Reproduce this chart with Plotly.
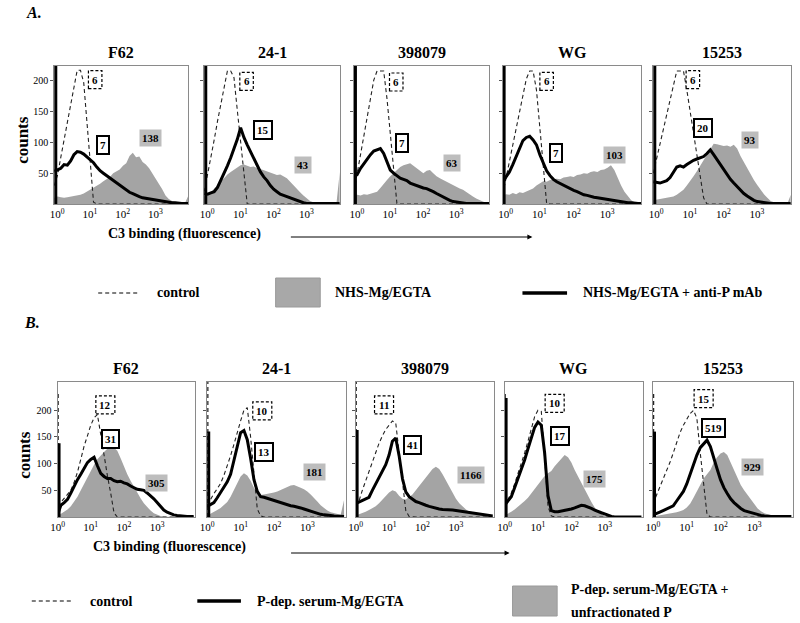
import plotly.graph_objects as go

# ---------------- data ----------------
LOG_CHANNEL = [0.0, 0.1, 0.2, 0.3, 0.4, 0.5, 0.6, 0.7, 0.8, 0.9,
               1.0, 1.1, 1.2, 1.3, 1.4, 1.5, 1.6, 1.7, 1.8, 1.9,
               2.0, 2.1, 2.2, 2.3, 2.4, 2.5, 2.6, 2.7, 2.8, 2.9,
               3.0, 3.1, 3.2, 3.3, 3.4, 3.5, 3.6, 3.7, 3.8, 3.9,
               4.0, 4.1]

STRAINS = ["F62", "24-1", "398079", "WG", "15253"]
X_TICK_VALUES = [1, 10, 100, 1000]
X_TICK_TEXT = ["10<sup>0</sup>", "10<sup>1</sup>", "10<sup>2</sup>", "10<sup>3</sup>"]
Y_TICK_VALUES = [50, 100, 150, 200]

# ---- panel A : control / NHS-Mg/EGTA (grey) / NHS-Mg/EGTA + anti-P mAb (black)
A_F62_CONTROL = [30, 47, 76, 104, 132, 160, 189, 217, 217, 197,
                 132, 66, 3, 0, 0, 0, 0, 0, 0, 0,
                 0, 0, 0, 0, 0, 0, 0, 0, 0, 0,
                 0, 0, 0, 0, 0, 0, 0, 0, 0, 0,
                 0, 0]
A_F62_NHS = [10, 12, 11, 10, 11, 12, 13, 13, 15, 17,
             20, 23, 27, 30, 33, 37, 40, 44, 50, 53,
             56, 62, 66, 78, 83, 76, 77, 68, 64, 58,
             50, 42, 33, 24, 14, 8, 5, 3, 2, 2,
             2, 14]
A_F62_MAB = [53, 55, 58, 64, 63, 70, 80, 85, 84, 81,
             76, 71, 67, 60, 54, 50, 46, 42, 38, 34,
             30, 26, 22, 19, 17, 14, 12, 10, 9, 8,
             7, 6, 5, 5, 4, 3, 2, 2, 1, 1,
             1, 1]

A_241_CONTROL = [20, 46, 75, 104, 134, 163, 192, 216, 216, 205,
                 152, 98, 44, 0, 0, 0, 0, 0, 0, 0,
                 0, 0, 0, 0, 0, 0, 0, 0, 0, 0,
                 0, 0, 0, 0, 0, 0, 0, 0, 0, 0,
                 0, 0]
A_241_NHS = [12, 14, 18, 25, 30, 36, 42, 48, 52, 56,
             60, 63, 64, 62, 60, 61, 58, 57, 55, 53,
             52, 50, 47, 48, 45, 42, 36, 30, 25, 19,
             14, 9, 5, 3, 2, 1, 1, 1, 1, 1,
             1, 52]
A_241_MAB = [17, 16, 18, 20, 27, 38, 50, 62, 75, 90,
             105, 124, 108, 96, 85, 72, 62, 52, 44, 38,
             30, 24, 20, 16, 14, 12, 10, 7, 5, 3,
             2, 1, 1, 1, 1, 1, 1, 1, 1, 1,
             1, 1]

A_398079_CONTROL = [20, 49, 80, 110, 140, 170, 201, 216, 216, 216,
                    171, 114, 58, 1, 0, 0, 0, 0, 0, 0,
                    0, 0, 0, 0, 0, 0, 0, 0, 0, 0,
                    0, 0, 0, 0, 0, 0, 0, 0, 0, 0,
                    0, 0]
A_398079_NHS = [14, 15, 14, 16, 15, 17, 18, 20, 26, 33,
                39, 45, 50, 55, 60, 63, 65, 66, 62, 58,
                53, 50, 54, 55, 50, 45, 42, 39, 36, 33,
                31, 28, 25, 23, 19, 15, 12, 9, 6, 4,
                2, 1]
A_398079_MAB = [50, 48, 58, 66, 72, 80, 86, 88, 90, 82,
                68, 55, 50, 46, 42, 40, 38, 34, 32, 29,
                28, 26, 25, 23, 20, 17, 14, 12, 9, 6,
                4, 3, 2, 2, 1, 1, 1, 1, 1, 1,
                1, 1]

A_WG_CONTROL = [15, 41, 68, 95, 122, 149, 176, 203, 216, 216,
                185, 124, 62, 1, 0, 0, 0, 0, 0, 0,
                0, 0, 0, 0, 0, 0, 0, 0, 0, 0,
                0, 0, 0, 0, 0, 0, 0, 0, 0, 0,
                0, 0]
A_WG_NHS = [14, 16, 15, 18, 16, 19, 18, 20, 22, 25,
            30, 34, 37, 36, 39, 40, 41, 40, 43, 44,
            45, 44, 47, 48, 50, 49, 52, 53, 52, 55,
            56, 59, 63, 55, 42, 30, 20, 12, 6, 3,
            2, 1]
A_WG_MAB = [36, 44, 52, 64, 78, 92, 103, 108, 110, 104,
            96, 80, 66, 54, 46, 40, 36, 33, 30, 27,
            25, 22, 20, 17, 15, 14, 12, 11, 10, 9,
            8, 7, 6, 5, 4, 3, 3, 2, 2, 1,
            1, 1]

A_15253_CONTROL = [50, 74, 98, 121, 145, 169, 193, 216, 216, 216,
                   185, 150, 115, 80, 45, 10, 0, 0, 0, 0,
                   0, 0, 0, 0, 0, 0, 0, 0, 0, 0,
                   0, 0, 0, 0, 0, 0, 0, 0, 0, 0,
                   0, 0]
A_15253_NHS = [6, 7, 8, 9, 10, 11, 12, 15, 19, 23,
               30, 37, 45, 53, 62, 72, 82, 90, 98, 97,
               96, 94, 95, 93, 96, 90, 78, 68, 57, 48,
               39, 31, 23, 16, 10, 5, 3, 1, 1, 1,
               1, 15]
A_15253_MAB = [36, 35, 34, 36, 38, 43, 52, 60, 62, 60,
               64, 68, 71, 73, 75, 77, 82, 88, 80, 72,
               64, 55, 47, 40, 34, 28, 22, 17, 13, 9,
               6, 4, 3, 2, 1, 1, 1, 1, 1, 1,
               1, 1]

A_PILEUP_MAB = [260, 260, 260, 260, 260]   # off-scale events in the first channel

A_MFI_CONTROL = ["6", "6", "6", "6", "6"]
A_MFI_NHS = ["138", "43", "63", "103", "93"]
A_MFI_MAB = ["7", "15", "7", "7", "20"]

# ---- panel B : control / P-dep. serum (black) / P-dep. serum + unfractionated P (grey)
B_F62_CONTROL = [20, 28, 36, 44, 50, 65, 84, 108, 133, 152,
                 172, 186, 192, 155, 112, 78, 45, 8, 0, 0,
                 0, 0, 0, 0, 0, 0, 0, 0, 0, 0,
                 0, 0, 0, 0, 0, 0, 0, 0, 0, 0,
                 0, 0]
B_F62_PDEP = [4, 22, 27, 33, 45, 58, 70, 80, 92, 102,
              108, 112, 96, 82, 76, 72, 72, 68, 66, 67,
              64, 62, 58, 55, 52, 51, 50, 45, 40, 34,
              27, 19, 13, 9, 6, 4, 3, 2, 1, 1,
              1, 1]
B_F62_UNFRAC = [2, 6, 9, 14, 20, 28, 38, 50, 62, 76,
                88, 98, 108, 116, 122, 128, 132, 130, 124, 110,
                94, 80, 68, 56, 45, 35, 26, 18, 12, 7,
                4, 2, 1, 0, 0, 0, 0, 0, 0, 0,
                0, 0]

B_241_CONTROL = [22, 34, 44, 53, 63, 78, 95, 115, 136, 160,
                 180, 200, 205, 150, 80, 15, 2, 0, 0, 0,
                 0, 0, 0, 0, 0, 0, 0, 0, 0, 0,
                 0, 0, 0, 0, 0, 0, 0, 0, 0, 0,
                 0, 0]
B_241_PDEP = [20, 24, 27, 36, 46, 56, 66, 80, 105, 135,
              158, 162, 145, 110, 70, 48, 38, 37, 35, 33,
              31, 29, 27, 24, 22, 21, 20, 19, 17, 15,
              13, 10, 8, 7, 5, 4, 4, 3, 2, 2,
              1, 1]
B_241_UNFRAC = [3, 6, 9, 13, 17, 22, 28, 38, 50, 64,
                76, 82, 78, 68, 55, 46, 41, 42, 43, 44,
                46, 48, 51, 54, 57, 59, 60, 58, 55, 52,
                48, 42, 36, 29, 22, 17, 12, 9, 7, 5,
                4, 32]

B_398079_CONTROL = [20, 30, 50, 68, 86, 104, 122, 138, 152, 164,
                    172, 180, 176, 120, 58, 12, 1, 0, 0, 0,
                    0, 0, 0, 0, 0, 0, 0, 0, 0, 0,
                    0, 0, 0, 0, 0, 0, 0, 0, 0, 0,
                    0, 0]
B_398079_PDEP = [25, 28, 31, 34, 37, 50, 62, 73, 85, 98,
                 116, 142, 148, 115, 72, 47, 38, 33, 29, 27,
                 24, 22, 20, 18, 16, 15, 14, 14, 13, 13,
                 12, 11, 10, 9, 8, 7, 6, 5, 4, 3,
                 2, 2]
B_398079_UNFRAC = [3, 5, 7, 10, 13, 16, 20, 26, 33, 40,
                   46, 50, 48, 40, 34, 33, 37, 42, 50, 58,
                   66, 74, 82, 90, 94, 90, 80, 68, 56, 44,
                   34, 26, 19, 14, 10, 7, 5, 4, 3, 2,
                   1, 1]

B_WG_CONTROL = [20, 32, 45, 62, 80, 100, 120, 142, 165, 188,
                200, 198, 110, 20, 2, 0, 0, 0, 0, 0,
                0, 0, 0, 0, 0, 0, 0, 0, 0, 0,
                0, 0, 0, 0, 0, 0, 0, 0, 0, 0,
                0, 0]
B_WG_PDEP = [22, 30, 38, 55, 72, 90, 107, 128, 150, 168,
             178, 172, 120, 40, 12, 10, 10, 11, 12, 13,
             15, 17, 19, 22, 21, 19, 16, 13, 10, 8,
             6, 3, 1, 0, 0, 0, 0, 0, 0, 0,
             0, 0]
B_WG_UNFRAC = [3, 6, 10, 14, 19, 24, 30, 36, 44, 54,
               62, 70, 77, 82, 86, 95, 102, 110, 116, 112,
               102, 88, 76, 62, 50, 38, 28, 18, 11, 6,
               3, 1, 0, 0, 0, 0, 0, 0, 0, 0,
               0, 0]

B_15253_CONTROL = [25, 40, 55, 70, 85, 102, 120, 140, 158, 172,
                   184, 194, 200, 185, 120, 60, 5, 0, 0, 0,
                   0, 0, 0, 0, 0, 0, 0, 0, 0, 0,
                   0, 0, 0, 0, 0, 0, 0, 0, 0, 0,
                   0, 0]
B_15253_PDEP = [4, 6, 9, 12, 15, 18, 21, 30, 40, 48,
                62, 80, 99, 116, 130, 138, 144, 132, 113, 90,
                70, 55, 44, 34, 27, 21, 16, 12, 10, 8,
                6, 4, 3, 2, 1, 1, 1, 1, 1, 1,
                1, 1]
B_15253_UNFRAC = [1, 2, 3, 4, 5, 6, 7, 9, 11, 13,
                  18, 25, 36, 48, 62, 72, 80, 88, 102, 112,
                  119, 122, 116, 102, 86, 72, 60, 50, 41, 32,
                  23, 16, 11, 7, 5, 3, 2, 1, 1, 0,
                  0, 0]

B_PILEUP_PDEP = [138, 160, 163, 223, 160]
B_PILEUP_CONTROL = [232, 260, 260, 232, 232]

B_MFI_CONTROL = ["12", "10", "11", "10", "15"]
B_MFI_PDEP = ["31", "13", "41", "17", "519"]
B_MFI_UNFRAC = ["305", "181", "1166", "175", "929"]

# ---------------- layout configuration ----------------
W, H = 800, 623
FONT = "Liberation Serif"
GRAY_FILL = "#a4a4a4"
GRAY_LABEL = "#bdbdbd"
FRAME = "#8a8a8a"
DASH_COLOR = "#222222"

A_X_PX = [(47.7, 183.0), (199.0, 335.7), (350.0, 486.7), (500.0, 640.0), (652.0, 790.7)]
A_Y_PX = (66.0, 204.0)
A_X_MAX, A_Y_MAX = 4.1, 224
B_X_PX = [(51.0, 190.0), (202.0, 341.7), (351.7, 491.7), (502.0, 641.7), (651.7, 793.0)]
B_Y_PX = (382.0, 517.0)
B_X_MAX, B_Y_MAX = 4.15, 253

# label box positions (log10 fluorescence, counts): control, black, grey
A_LABEL_POS = [
    [(1.25, 202), (1.49, 95), (2.95, 107)],
    [(1.28, 199), (1.78, 120), (2.98, 64)],
    [(1.28, 198), (1.45, 99), (2.98, 67)],
    [(1.30, 199), (1.58, 83), (3.32, 80)],
    [(1.18, 202), (1.48, 123), (2.88, 104)],
]
B_LABEL_POS = [
    [(1.44, 210), (1.60, 146), (2.97, 64)],
    [(1.65, 199), (1.70, 122), (3.22, 85)],
    [(0.85, 210), (1.70, 135), (3.45, 79)],
    [(1.50, 213), (1.65, 152), (2.70, 72)],
    [(1.50, 222), (1.78, 167), (2.94, 94)],
]

CHANNEL = [10 ** e for e in LOG_CHANNEL]

fig = go.Figure()
annotations = []
shapes = []


def px(x, y):
    return x / W, 1 - y / H


def text_ann(x, y, text, size, bold=True, italic=False, xanchor="center", angle=0, color="black"):
    t = text
    if italic:
        t = "<i>" + t + "</i>"
    if bold:
        t = "<b>" + t + "</b>"
    fx, fy = px(x, y)
    annotations.append(dict(x=fx, y=fy, xref="paper", yref="paper", text=t, showarrow=False,
                            xanchor=xanchor, yanchor="middle", textangle=angle,
                            font=dict(family=FONT, size=size, color=color)))


def add_panel(n, xpx, ypx, xmax, ymax, grey, dashed, black, pile_black, pile_dash,
              title, first, labels, label_pos, shift):
    xa = "x" if n == 1 else "x%d" % n
    ya = "y" if n == 1 else "y%d" % n
    fig.add_trace(go.Scatter(x=CHANNEL, y=grey, mode="lines", fill="tozeroy",
                             fillcolor=GRAY_FILL, line=dict(width=0, color=GRAY_FILL),
                             xaxis=xa, yaxis=ya, hoverinfo="skip"))
    if pile_dash is not None:
        fig.add_trace(go.Scatter(x=[CHANNEL[0], CHANNEL[0]], y=[0, pile_dash], mode="lines",
                                 line=dict(color=DASH_COLOR, width=2.5, dash="4px,3px"),
                                 xaxis=xa, yaxis=ya, hoverinfo="skip"))
    fig.add_trace(go.Scatter(x=CHANNEL, y=dashed, mode="lines",
                             line=dict(color=DASH_COLOR, width=1.1, dash="4px,3px"),
                             xaxis=xa, yaxis=ya, hoverinfo="skip"))
    fig.add_trace(go.Scatter(x=[CHANNEL[0], CHANNEL[0]], y=[0, pile_black], mode="lines",
                             line=dict(color="black", width=6),
                             xaxis=xa, yaxis=ya, hoverinfo="skip"))
    fig.add_trace(go.Scatter(x=CHANNEL, y=black, mode="lines",
                             line=dict(color="black", width=3),
                             xaxis=xa, yaxis=ya, hoverinfo="skip"))

    key = "" if n == 1 else str(n)
    fig.layout["xaxis" + key] = dict(
        type="log", range=[0, xmax], domain=[xpx[0] / W, xpx[1] / W], anchor=ya,
        showline=True, mirror=True, linecolor=FRAME, linewidth=1,
        showgrid=False, zeroline=False, ticks="",
        tickvals=X_TICK_VALUES, ticktext=X_TICK_TEXT, ticklabelshift=shift,
        tickfont=dict(family=FONT, size=11, color="black"))
    fig.layout["yaxis" + key] = dict(
        range=[0, ymax], domain=[1 - ypx[1] / H, 1 - ypx[0] / H], anchor=xa,
        showline=True, mirror=True, linecolor=FRAME, linewidth=1,
        showgrid=False, zeroline=False, ticks="outside", ticklen=3, tickcolor="#555",
        tickvals=Y_TICK_VALUES, showticklabels=first,
        tickfont=dict(family=FONT, size=10, color="black"))

    # title
    text_ann((xpx[0] + xpx[1]) / 2, ypx[0] - 14, title, 16)

    # MFI label boxes
    styles = ["dash", "solid", "grey"]
    for (txt, (lx, ly), st) in zip(labels, label_pos, styles):
        cx = xpx[0] + lx / xmax * (xpx[1] - xpx[0])
        cy = ypx[1] - ly / ymax * (ypx[1] - ypx[0])
        fx, fy = px(cx, cy)
        ann = dict(x=fx, y=fy, xref="paper", yref="paper", text="<b>" + txt + "</b>",
                   showarrow=False, xanchor="center", yanchor="middle",
                   font=dict(family=FONT, size=11, color="black"))
        if st == "solid":
            ann.update(bgcolor="white", bordercolor="black", borderwidth=2, borderpad=2)
        elif st == "grey":
            ann.update(bgcolor=GRAY_LABEL, borderpad=2)
        else:
            w = 5.6 * len(txt) + 8
            h = 18
            x0, y0 = px(cx - w / 2, cy + h / 2)
            x1, y1 = px(cx + w / 2, cy - h / 2)
            shapes.append(dict(type="rect", xref="paper", yref="paper", x0=x0, x1=x1,
                               y0=y0, y1=y1, line=dict(color="black", width=1.2, dash="3px,2px"),
                               fillcolor="white", layer="above"))
        annotations.append(ann)


A_SETS = [
    (A_F62_NHS, A_F62_CONTROL, A_F62_MAB),
    (A_241_NHS, A_241_CONTROL, A_241_MAB),
    (A_398079_NHS, A_398079_CONTROL, A_398079_MAB),
    (A_WG_NHS, A_WG_CONTROL, A_WG_MAB),
    (A_15253_NHS, A_15253_CONTROL, A_15253_MAB),
]
B_SETS = [
    (B_F62_UNFRAC, B_F62_CONTROL, B_F62_PDEP),
    (B_241_UNFRAC, B_241_CONTROL, B_241_PDEP),
    (B_398079_UNFRAC, B_398079_CONTROL, B_398079_PDEP),
    (B_WG_UNFRAC, B_WG_CONTROL, B_WG_PDEP),
    (B_15253_UNFRAC, B_15253_CONTROL, B_15253_PDEP),
]

for i in range(5):
    grey, dashed, black = A_SETS[i]
    add_panel(i + 1, A_X_PX[i], A_Y_PX, A_X_MAX, A_Y_MAX, grey, dashed, black,
              A_PILEUP_MAB[i], None, STRAINS[i], i == 0,
              [A_MFI_CONTROL[i], A_MFI_MAB[i], A_MFI_NHS[i]], A_LABEL_POS[i], 3)
for i in range(5):
    grey, dashed, black = B_SETS[i]
    add_panel(i + 6, B_X_PX[i], B_Y_PX, B_X_MAX, B_Y_MAX, grey, dashed, black,
              B_PILEUP_PDEP[i], B_PILEUP_CONTROL[i], STRAINS[i], i == 0,
              [B_MFI_CONTROL[i], B_MFI_PDEP[i], B_MFI_UNFRAC[i]], B_LABEL_POS[i], 0)

# panel letters, axis titles
text_ann(17, 13, "A.", 16, italic=True, xanchor="left")
text_ann(15, 322, "B.", 16, italic=True, xanchor="left")
text_ann(15, 140, "counts", 17, angle=-90)
text_ann(17, 455, "counts", 17, angle=-90)
text_ann(100, 234, "C3 binding (fluorescence)", 14, xanchor="left")
text_ann(85, 547, "C3 binding (fluorescence)", 14, xanchor="left")


def arrow(x0, x1, y):
    fx, fy = px(x1, y)
    annotations.append(dict(x=fx, y=fy, xref="paper", yref="paper", text="", showarrow=True,
                            ax=-(x1 - x0), ay=0, arrowhead=2, arrowsize=1, arrowwidth=1,
                            arrowcolor="black"))


arrow(287, 530, 237)
arrow(287, 507, 553)


def hline(x0, x1, y, width, dash=None):
    a, b = px(x0, y)
    c, d = px(x1, y)
    shapes.append(dict(type="line", xref="paper", yref="paper", x0=a, y0=b, x1=c, y1=d,
                       line=dict(color="black", width=width, dash=dash)))


def grey_box(x0, x1, y0, y1):
    a, b = px(x0, y1)
    c, d = px(x1, y0)
    shapes.append(dict(type="rect", xref="paper", yref="paper", x0=a, y0=b, x1=c, y1=d,
                       fillcolor="#a8a8a8", line=dict(color="#9a9a9a", width=1)))


# legend A
hline(92, 134, 293, 1.2, "4px,3px")
text_ann(149, 293, "control", 14, xanchor="left")
grey_box(271, 316, 278, 307)
text_ann(329, 293, "NHS-Mg/EGTA", 14, xanchor="left")
hline(520, 565, 293, 3.5)
text_ann(579, 293, "NHS-Mg/EGTA + anti-P mAb", 14, xanchor="left")

# legend B
hline(25, 66, 601, 1.2, "4px,3px")
text_ann(82, 601, "control", 14, xanchor="left")
hline(192, 236, 601, 3.5)
text_ann(250, 601, "P-dep. serum-Mg/EGTA", 14, xanchor="left")
grey_box(510, 555, 586, 616)
text_ann(567, 589, "P-dep. serum-Mg/EGTA +", 14, xanchor="left")
text_ann(567, 612, "unfractionated P", 14, xanchor="left")

fig.update_layout(width=W, height=H, margin=dict(l=0, r=0, t=0, b=0),
                  paper_bgcolor="white", plot_bgcolor="white", showlegend=False,
                  annotations=annotations, shapes=shapes)
fig.write_html("out.html", config={"displayModeBar": False},
               post_script="document.body.style.margin='0px';document.body.style.overflow='hidden';")
